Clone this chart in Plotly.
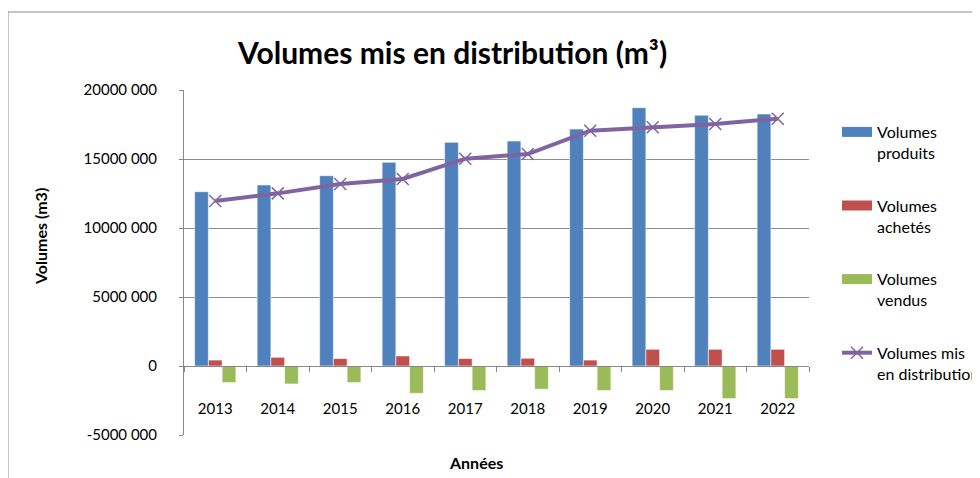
import plotly.graph_objects as go

# Data
annees = ["2013", "2014", "2015", "2016", "2017", "2018", "2019", "2020", "2021", "2022"]
volumes_produits = [12630000, 13120000, 13790000, 14760000, 16210000, 16300000, 17170000, 18720000, 18170000, 18260000]
volumes_achetes = [430000, 630000, 540000, 730000, 540000, 560000, 430000, 1210000, 1210000, 1210000]
volumes_vendus = [-1200000, -1300000, -1200000, -1980000, -1780000, -1680000, -1780000, -1780000, -2360000, -2360000]
volumes_distribues = [11960000, 12510000, 13190000, 13550000, 15020000, 15360000, 17050000, 17300000, 17540000, 17920000]

y_ticks = [-5000000, 0, 5000000, 10000000, 15000000, 20000000]
y_ticktext = ["-5000 000", "0", "5000 000", "10000 000", "15000 000", "20000 000"]

BLUE = "#4F81BD"
RED = "#C0504D"
GREEN = "#9BBB59"
PURPLE = "#8064A2"
FONT = "Lato, Carlito, Calibri, sans-serif"

fig = go.Figure()

bar_series = [
    (volumes_produits, BLUE, "Volumes<br>produits"),
    (volumes_achetes, RED, "Volumes<br>achetés"),
    (volumes_vendus, GREEN, "Volumes<br>vendus"),
]
for i, (vals, col, name) in enumerate(bar_series):
    fig.add_trace(go.Bar(
        x=annees, y=vals, name=name, marker_color=col,
        marker_line=dict(color="rgba(255,255,255,0.55)", width=1),
        showlegend=False, legendgroup=f"g{i}",
    ))
    # wide rectangular legend swatch, like the spreadsheet legend
    fig.add_trace(go.Scatter(
        x=[None], y=[None], mode="lines", name=name,
        line=dict(color=col, width=10), legendgroup=f"g{i}",
    ))

fig.add_trace(go.Scatter(
    x=annees, y=volumes_distribues, name="Volumes mis<br>en distribution",
    mode="lines+markers", legendgroup="g3",
    line=dict(color=PURPLE, width=4),
    marker=dict(symbol="x-thin", size=12, color=PURPLE, line=dict(width=1.5, color=PURPLE)),
))

# page body adds an 8px offset, so margins are shifted to keep the plot area at 184..809 / 90..435 on screen
fig.update_layout(
    width=980, height=478,
    margin=dict(l=176, r=179, t=82, b=51, autoexpand=False),
    paper_bgcolor="white", plot_bgcolor="white",
    font=dict(family=FONT, size=15, color="#000000"),
    barmode="group", bargap=0.34, bargroupgap=0,
    showlegend=True,
    legend=dict(
        x=(837 - 184) / 625, y=(435 - 115) / 345, xanchor="left", yanchor="top",
        xref="paper", yref="paper",
        font=dict(size=16), tracegroupgap=29, itemwidth=30,
        valign="top", traceorder="grouped",
    ),
)

fig.update_xaxes(
    type="category", range=[-0.5, len(annees) - 0.5],
    anchor="free", position=(435 - 366) / 345,
    showline=True, linecolor="#888888", linewidth=1,
    ticks="outside", ticklen=5, tickcolor="#888888", tickson="boundaries",
    showgrid=False, zeroline=False, ticklabelstandoff=29,
    tickfont=dict(size=15),
)
fig.update_yaxes(
    range=[-5000000, 20000000], tickvals=y_ticks, ticktext=y_ticktext,
    showline=True, linecolor="#888888", linewidth=1,
    ticks="outside", ticklen=4, tickcolor="#888888",
    showgrid=True, gridcolor="#8c8c8c", gridwidth=1, zeroline=False,
    ticklabelstandoff=19, tickfont=dict(size=15),
)

fig.add_annotation(
    text="<b>Volumes mis en distribution (m³)</b>", xref="paper", yref="paper",
    x=(452 - 184) / 625, y=(435 - 52) / 345, showarrow=False,
    font=dict(size=30, family=FONT), xanchor="center", yanchor="middle",
)
fig.add_annotation(
    text="<b>Volumes (m3)</b>", xref="paper", yref="paper",
    x=(40 - 184) / 625, y=(435 - 237) / 345, showarrow=False, textangle=-90,
    font=dict(size=16), xanchor="center", yanchor="middle",
)
fig.add_annotation(
    text="<b>Années</b>", xref="paper", yref="paper",
    x=(476 - 184) / 625, y=(435 - 462) / 345, showarrow=False,
    font=dict(size=16), xanchor="center", yanchor="middle",
)

# outer chart frame (runs off the right and bottom edges as in the reference)
fig.add_shape(
    type="rect", xref="paper", yref="paper",
    x0=(8 - 184) / 625, x1=2, y0=-1, y1=(435 - 12) / 345,
    line=dict(color="#8c8c8c", width=1), layer="below",
)

fig.write_html("out.html")
